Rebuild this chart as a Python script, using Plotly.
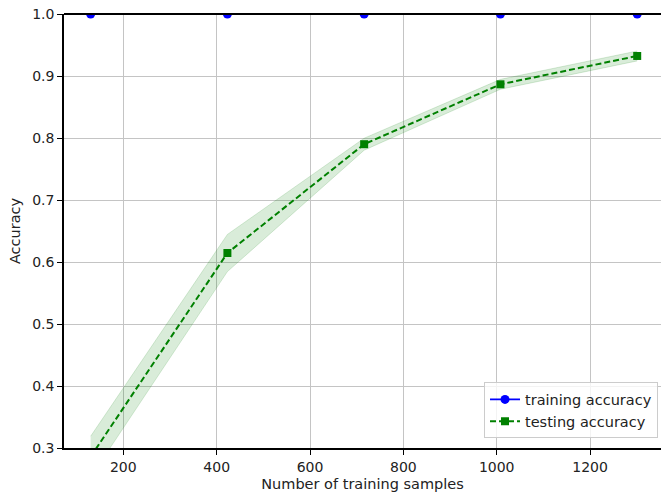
import plotly.graph_objects as go
import numpy as np

train_sizes = [130, 423, 716, 1008, 1301]
train_mean = [1.0, 1.0, 1.0, 1.0, 1.0]
train_std = [0.0, 0.0, 0.0, 0.0, 0.0]
test_mean = [0.286, 0.6145, 0.790, 0.8866, 0.9323]
test_std = [0.033, 0.030, 0.0097, 0.008, 0.008]

x_ticks = [200, 400, 600, 800, 1000, 1200]
y_ticks = [0.3, 0.4, 0.5, 0.6, 0.7, 0.8, 0.9, 1.0]
y_tick_labels = ["0.3", "0.4", "0.5", "0.6", "0.7", "0.8", "0.9", "1.0"]

tr_m = np.array(train_mean); tr_s = np.array(train_std)
te_m = np.array(test_mean); te_s = np.array(test_std)

fig = go.Figure()

# training band
fig.add_trace(go.Scatter(x=train_sizes, y=tr_m + tr_s, mode="lines", line=dict(width=0),
                         showlegend=False, hoverinfo="skip"))
fig.add_trace(go.Scatter(x=train_sizes, y=tr_m - tr_s, mode="lines", line=dict(width=0),
                         fill="tonexty", fillcolor="rgba(0,0,255,0.15)", showlegend=False, hoverinfo="skip"))
# testing band
fig.add_trace(go.Scatter(x=train_sizes, y=te_m + te_s, mode="lines",
                         line=dict(width=1, color="rgba(0,128,0,0.15)"),
                         showlegend=False, hoverinfo="skip"))
fig.add_trace(go.Scatter(x=train_sizes, y=te_m - te_s, mode="lines",
                         line=dict(width=1, color="rgba(0,128,0,0.15)"),
                         fill="tonexty", fillcolor="rgba(0,128,0,0.15)", showlegend=False, hoverinfo="skip"))

fig.add_trace(go.Scatter(x=train_sizes, y=train_mean, mode="lines+markers", name="training accuracy",
                         line=dict(color="#0000ff", width=1.8),
                         marker=dict(symbol="circle", size=9, color="#0000ff")))
fig.add_trace(go.Scatter(x=train_sizes, y=test_mean, mode="lines+markers", name="testing accuracy",
                         line=dict(color="#008000", width=2, dash="6px,3px"),
                         marker=dict(symbol="square", size=8, color="#008000")))

font = dict(family="DejaVu Sans", size=14.5, color="#222222")
tickfont = dict(family="DejaVu Sans", size=14, color="#222222")

fig.update_layout(
    width=661, height=495,
    margin=dict(l=64, r=0, t=14, b=47, autoexpand=False),
    paper_bgcolor="white", plot_bgcolor="white",
    font=font,
    legend=dict(x=0.995, y=0.022, xanchor="right", yanchor="bottom",
                bgcolor="rgba(255,255,255,0.8)", bordercolor="#cccccc", borderwidth=1,
                font=font, traceorder="normal", tracegroupgap=0, itemwidth=30),
    xaxis=dict(range=[72.9, 1352], tickvals=x_ticks, ticktext=[str(v) for v in x_ticks],
               tickfont=tickfont,
               showgrid=True, gridcolor="#c4c4c4", gridwidth=0.8,
               showline=True, linecolor="black", linewidth=1.5,
               ticks="outside", ticklen=5, tickcolor="black", zeroline=False,
               automargin=False,
               title=dict(text="Number of training samples", font=font, standoff=5)),
    yaxis=dict(range=[0.3, 1.0], tickvals=y_ticks, ticktext=y_tick_labels,
               tickfont=tickfont,
               showgrid=True, gridcolor="#c4c4c4", gridwidth=0.8,
               showline=True, linecolor="black", linewidth=1.5,
               ticks="outside", ticklen=5, tickcolor="black", zeroline=False,
               automargin=False,
               title=dict(text="Accuracy", font=font, standoff=8)),
    shapes=[dict(type="line", xref="paper", yref="paper", x0=0, x1=1, y0=1, y1=1,
                 line=dict(color="black", width=2), layer="above")],
)

fig.write_html("out.html", config={"displayModeBar": False},
               post_script="document.body.style.margin='0';document.body.style.overflow='hidden';")
